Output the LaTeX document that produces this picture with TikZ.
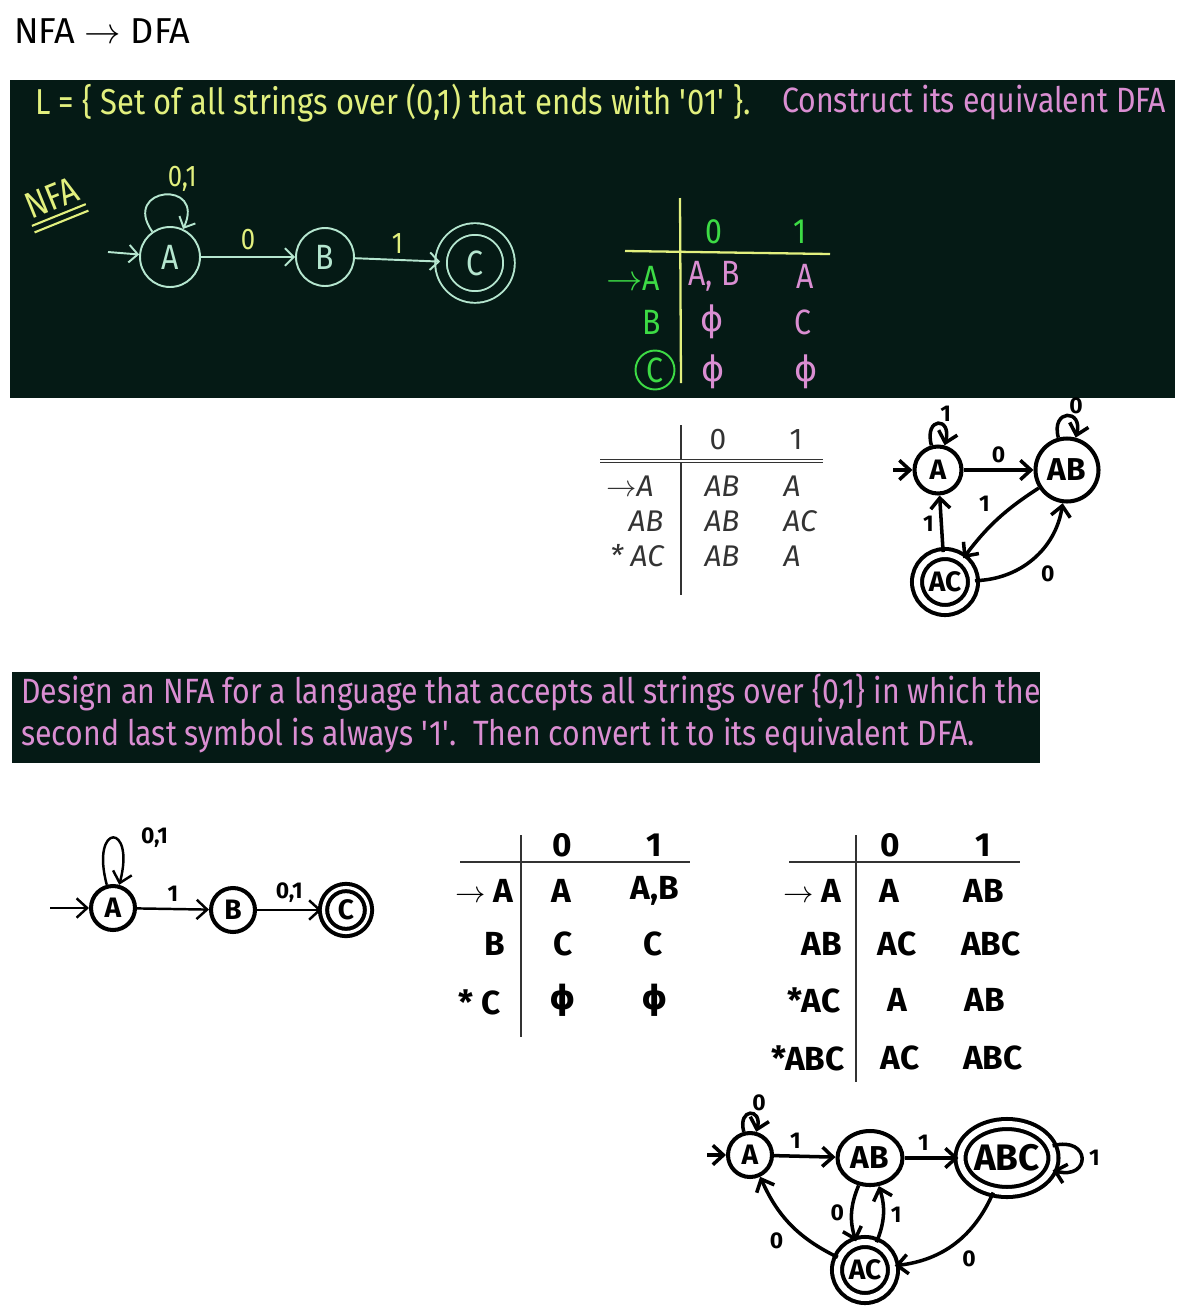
\documentclass[tikz,border=0pt]{standalone}
\usepackage{fontspec}
\setmainfont{Fira Sans}
\newfontfamily\chalkfont[FakeStretch=0.86]{Fira Sans}
\newfontfamily\penfont{Fira Sans}
\newfontfamily\symfont{DejaVu Sans}
\usetikzlibrary{arrows.meta,shapes.geometric}
\definecolor{boardcol}{HTML}{051A15}
\definecolor{chalkyel}{HTML}{E2F07E}
\definecolor{chalkpink}{HTML}{DA8ED2}
\definecolor{chalkgreen}{HTML}{3DDB45}
\definecolor{chalkmint}{HTML}{B5E6CF}
\definecolor{pencil}{HTML}{333333}
\newcommand{\nullset}{{\symfont ϕ}}
\begin{document}
\begin{tikzpicture}[x=0.02cm,y=-0.02cm,
		cstate/.style={circle,draw=chalkmint,line width=1.1pt,inner sep=0pt,text=chalkmint,font=\chalkfont\fontsize{20}{20}\selectfont},
		cacc/.style={double=boardcol,double distance=5.5pt},
		cedge/.style={chalkmint,line width=1.1pt,-{Straight Barb[length=5pt,width=10pt]}},
		clabel/.style={text=chalkyel,font=\chalkfont\fontsize{17}{17}\selectfont},
		ctext/.style={font=\chalkfont\fontsize{20}{20}\selectfont},
		mstate/.style={circle,draw,line width=2.3pt,inner sep=0pt,font=\penfont\bfseries\fontsize{16}{16}\selectfont},
		macc/.style={double=white,double distance=3.4pt},
		medge/.style={line width=2pt,-{Straight Barb[length=6pt,width=11pt]}},
		mlabel/.style={font=\penfont\bfseries\fontsize{13}{13}\selectfont},
		mtab/.style={font=\penfont\bfseries\fontsize{19}{19}\selectfont},
		itab/.style={text=pencil,font=\penfont\itshape\fontsize{17}{17}\selectfont}]
	\useasboundingbox[fill=white] (0,0) rectangle (1185,1312);
	\node[anchor=west,font=\fontsize{20.5}{20}\selectfont] (title) at (8,31) {NFA $\rightarrow$ DFA};
	\fill[boardcol] (10,80) rectangle (1175,398);
	\node[ctext,anchor=west,text=chalkyel,font=\chalkfont\fontsize{20.5}{20}\selectfont] (lang) at (29,103) {L = \{ Set of all strings over (0,1) that ends with \textquotesingle 01\textquotesingle\ \}.};
	\node[ctext,anchor=west,text=chalkpink] (task) at (776,103) {Construct its equivalent DFA};
	\node[clabel,rotate=22,inner sep=1pt,font=\chalkfont\fontsize{21}{21}\selectfont] (nfalbl) at (52,198) {NFA};
	\draw[chalkyel,line width=1.2pt] ([shift={(-68:2pt)}]nfalbl.south west) -- ([shift={(-68:2pt)}]nfalbl.south east) ([shift={(-68:6pt)}]nfalbl.south west) -- ([shift={(-68:6pt)}]nfalbl.south east);
	\node[cstate,minimum size=1.2cm] (na) at (170,257) {A};
	\node[cstate,minimum size=1.16cm] (nb) at (325,257) {B};
	\node[cstate,cacc,minimum size=1.36cm] (nc) at (475,263) {C};
	\coordinate (nin) at (108,252);
	\draw[cedge] (nin) -- (na);
	\draw[cedge] (na) to[loop,out=125,in=65,min distance=1.1cm] node[clabel,above right=-2pt] {0,1} (na);
	\draw[cedge] (na) -- node[clabel,above] {0} (nb);
	\draw[cedge] (nb) -- node[clabel,above] {1} (nc);
	\draw[chalkyel,line width=1.3pt] (680,198) -- (681,383) (625,251) -- (830,254);
	\foreach \x/\y/\t [count=\i] in {714/232/0,800/232/1,633/278/{$\rightarrow$A},652/322/B}
		\node[ctext,text=chalkgreen] (cth\i) at (\x,\y) {\t};
	\node[ctext,text=chalkgreen,circle,draw=chalkgreen,line width=1.1pt,inner sep=0pt,minimum size=0.78cm] (ctc) at (655,370) {C};
	\foreach \x/\y/\t [count=\i] in {714/276/{A, B},805/276/A,712/322/\nullset,803/322/C,713/372/\nullset,806/372/\nullset}
		\node[ctext,text=chalkpink] (cte\i) at (\x,\y) {\t};
	\draw[pencil,line width=0.8pt] (681,425) -- (681,595);
	\draw[pencil,line width=0.5pt,double=white,double distance=0.8pt] (600,461) -- (823,461);
	\foreach \x/\y/\t [count=\i] in {718/440/\upshape 0,796/440/\upshape 1,630/486/{$\rightarrow$A},646/521/AB,637/556/{* AC},722/486/AB,792/486/A,722/521/AB,800/521/AC,722/556/AB,792/556/A}
		\node[itab] (it\i) at (\x,\y) {\t};
	\node[mstate,minimum size=0.94cm] (da) at (938,470) {A};
	\node[mstate,minimum size=1.26cm,font=\penfont\bfseries\fontsize{18}{18}\selectfont] (dab) at (1067,470) {AB};
	\node[mstate,macc,minimum size=1.12cm] (dac) at (945,582) {AC};
	\coordinate (din) at (893,470);
	\draw[medge] (din) -- (da);
	\draw[medge] (da) to[loop above,min distance=0.6cm] node[mlabel,above right=-3pt] {1} (da);
	\draw[medge] (dab) to[loop above,min distance=0.6cm] node[mlabel,above right=-3pt] {0} (dab);
	\draw[medge] (da) -- node[mlabel,above] {0} (dab);
	\draw[medge] (dab) to[bend right=10] node[mlabel,above left] {1} (dac);
	\draw[medge] (dac) -- node[mlabel,left] {1} (da);
	\draw[medge] (dac) to[bend right=40] node[mlabel,below right] {0} (dab);
	\fill[boardcol] (12,672) rectangle (1040,763);
	\node[ctext,anchor=west,text=chalkpink] (q1) at (15,693) {Design an NFA for a language that accepts all strings over \{0,1\} in which the};
	\node[ctext,anchor=west,text=chalkpink] (q2) at (15,736) {second last symbol is always \textquotesingle 1\textquotesingle.\ \ Then convert it to its equivalent DFA.};
	\node[mstate,minimum size=0.88cm] (pa) at (113,908) {A};
	\node[mstate,minimum size=0.88cm] (pb) at (233,910) {B};
	\node[mstate,macc,minimum size=0.9cm,double distance=1.8pt] (pc) at (346,910) {C};
	\coordinate (pin) at (50,908);
	\draw[medge,line width=1.4pt] (pin) -- (pa);
	\draw[medge,line width=1.4pt] (pa) to[loop above,min distance=1.3cm] node[mlabel,right=12pt] {0,1} (pa);
	\draw[medge,line width=1.4pt] (pa) -- node[mlabel,above] {1} (pb);
	\draw[medge,line width=1.4pt] (pb) -- node[mlabel,above] {0,1} (pc);
	\draw[pencil,line width=1.2pt] (521,835) -- (521,1037) (460,862) -- (690,862);
	\foreach \x/\y/\t [count=\i] in {562/845/0,654/845/1,484/891/{$\rightarrow$ A},495/944/B,480/1002/{* C},561/891/A,655/891/{A,B},563/944/C,653/944/C,563/1000/\nullset,655/1000/\nullset}
		\node[mtab] (tb\i) at (\x,\y) {\t};
	\draw[pencil,line width=1.2pt] (856,835) -- (856,1082) (789,862) -- (1020,862);
	\foreach \x/\y/\t [count=\i] in {890/845/0,983/845/1,812/891/{$\rightarrow$ A},822/944/AB,814/1000/*AC,808/1058/*ABC,889/891/A,984/891/AB,897/944/AC,991/944/ABC,897/1000/A,985/1000/AB,900/1058/AC,993/1058/ABC}
		\node[mtab] (tc\i) at (\x,\y) {\t};
	\node[mstate,minimum size=0.88cm] (ea) at (750,1155) {A};
	\node[mstate,ellipse,minimum width=1.3cm,minimum height=1.08cm,font=\penfont\bfseries\fontsize{18}{18}\selectfont] (eab) at (870,1158) {AB};
	\node[mstate,macc,ellipse,minimum width=1.84cm,minimum height=1.36cm,font=\penfont\bfseries\fontsize{21}{21}\selectfont] (eabc) at (1007,1158) {ABC};
	\node[mstate,macc,minimum size=1.12cm] (eac) at (865,1270) {AC};
	\coordinate (ein) at (707,1155);
	\draw[medge] (ein) -- (ea);
	\draw[medge] (ea) to[loop above,min distance=0.5cm] node[mlabel,above right=-3pt] {0} (ea);
	\draw[medge] (ea) -- node[mlabel,above,pos=0.35] {1} (eab);
	\draw[medge] (eab) -- node[mlabel,above,pos=0.35] {1} (eabc);
	\draw[medge] (eabc) to[loop right,min distance=0.8cm] node[mlabel,right] {1} (eabc);
	\draw[medge] (eab) to[bend right=20] node[mlabel,left] {0} (eac);
	\draw[medge] (eac) to[bend right=20] node[mlabel,right] {1} (eab);
	\draw[medge] (eac) to[bend left=20] node[mlabel,below left] {0} (ea);
	\draw[medge] (eabc) to[bend left=30] node[mlabel,below right] {0} (eac);
\end{tikzpicture}
\end{document}
